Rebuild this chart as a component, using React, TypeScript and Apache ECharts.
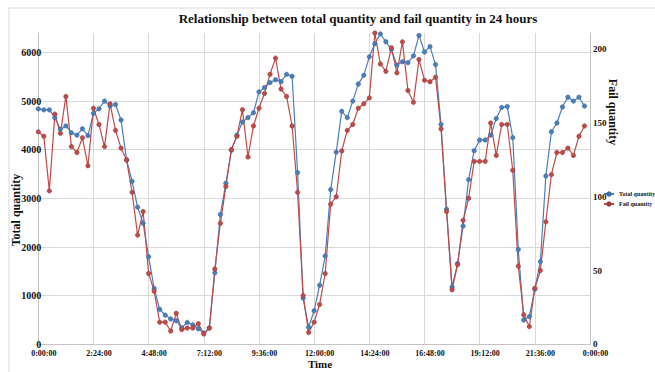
import React, { useEffect, useRef } from "react";
import * as echarts from "echarts";

const timeLabels = ["0:00:00", "2:24:00", "4:48:00", "7:12:00", "9:36:00", "12:00:00", "14:24:00", "16:48:00", "19:12:00", "21:36:00", "0:00:00"];

const totalQuantity = [
  4840, 4820, 4820, 4660, 4420, 4490, 4350, 4300, 4430, 4290,
  4750, 4840, 5000, 4900, 4930, 4610, 3790, 3350, 2820, 2490,
  1800, 1150, 720, 600, 520, 485, 340, 450, 400, 320,
  230, 335, 1470, 2670, 3310, 3990, 4300, 4570, 4660, 4760,
  5190, 5280, 5380, 5440, 5400, 5550, 5510, 3530, 950, 350,
  690, 1215, 1815, 3180, 3950, 4790, 4660, 5000, 5350, 5530,
  5910, 6180, 6380, 6220, 6060, 5740, 5810, 5790, 5930, 6350,
  6010, 6120, 5750, 4520, 2780, 1180, 1660, 2430, 3385, 3980,
  4200, 4200, 4300, 4640, 4870, 4890, 4250, 1950, 500, 570,
  1130, 1700, 3460, 4370, 4550, 4880, 5080, 5000, 5080, 4900,
];

const failQuantity = [
  144, 141, 104, 156, 143, 168, 134, 130, 140, 121,
  160, 149, 134, 163, 145, 133, 125, 103, 74, 90,
  48, 36, 15, 15, 9, 21, 10, 11, 11, 14,
  7, 11, 51, 82, 107, 132, 141, 159, 127, 148,
  160, 170, 183, 194, 173, 168, 148, 103, 33, 8,
  15, 27, 48, 95, 100, 131, 145, 149, 160, 163,
  167, 211, 190, 185, 201, 184, 205, 172, 164, 193,
  179, 178, 181, 146, 90, 37, 54, 84, 99, 124,
  124, 124, 150, 128, 149, 149, 118, 53, 20, 12,
  38, 50, 83, 115, 130, 130, 133, 128, 141, 148,
];

const FONT = '"Liberation Serif", "Times New Roman", serif';
const BLUE = "#4a7ebb";
const RED = "#be4b48";
const GRID = "#d9d9d9";
const AXIS = "#c4c4c4";

export default function App() {
  const ref = useRef<HTMLDivElement>(null);
  useEffect(() => {
    if (!ref.current) return;
    const chart = echarts.init(ref.current, undefined, { renderer: "svg" });
    const option: any = {
      animation: false,
      backgroundColor: "#ffffff",
      grid: { left: 38.3, right: 65, top: 33, bottom: 27.7, containLabel: false },
      graphic: [
        {
          type: "rect",
          shape: { x: 9, y: 8, width: 700, height: 420 },
          style: { fill: "none", stroke: "#d9d9d9", lineWidth: 1 },
          silent: true,
          z: -10,
        },
        {
          type: "text",
          x: 358,
          y: 18,
          style: {
            text: "Relationship between total quantity and fail quantity in 24 hours",
            font: `bold 13px ${FONT}`,
            fill: "#111",
            textAlign: "center",
            textVerticalAlign: "middle",
          },
        },
        {
          type: "text",
          x: 16,
          y: 210,
          rotation: Math.PI / 2,
          style: {
            text: "Total quantity",
            font: `bold 12px ${FONT}`,
            fill: "#111",
            textAlign: "center",
            textVerticalAlign: "middle",
          },
        },
        {
          type: "text",
          x: 613,
          y: 112,
          rotation: -Math.PI / 2,
          style: {
            text: "Fail quantity",
            font: `bold 12px ${FONT}`,
            fill: "#111",
            textAlign: "center",
            textVerticalAlign: "middle",
          },
        },
        {
          type: "text",
          x: 320,
          y: 364,
          style: {
            text: "Time",
            font: `bold 11px ${FONT}`,
            fill: "#111",
            textAlign: "center",
            textVerticalAlign: "middle",
          },
        },
      ],
      legend: {
        orient: "vertical",
        left: 603,
        top: 191,
        itemWidth: 10,
        itemHeight: 4,
        itemGap: 4,
        padding: 0,
        textStyle: { fontSize: 6, fontWeight: "bold", fontFamily: FONT, color: "#111" },
        data: ["Total quantity", "Fail quantity"],
      },
      xAxis: {
        type: "value",
        min: 0,
        max: 100,
        interval: 10,
        axisLine: { show: true, lineStyle: { color: AXIS, width: 1 } },
        axisTick: { show: false },
        splitLine: { show: true, lineStyle: { color: GRID, width: 1 } },
        axisLabel: {
          formatter: (v: number) => timeLabels[Math.round(v / 10)] ?? "",
          fontSize: 8,
          fontWeight: "bold",
          fontFamily: FONT,
          color: "#111",
          margin: 5,
          padding: [0, 0, 0, 11],
          showMinLabel: true,
          showMaxLabel: true,
        },
      },
      yAxis: [
        {
          type: "value",
          min: 0,
          max: 6400,
          interval: 1000,
          position: "left",
          axisLine: { show: true, lineStyle: { color: AXIS, width: 1 } },
          axisTick: { show: false },
          splitLine: { show: true, showMaxLine: false, lineStyle: { color: GRID, width: 1 } },
          axisLabel: {
            formatter: (v: number) => String(v),
            fontSize: 10,
            fontWeight: "bold",
            fontFamily: FONT,
            color: "#111",
            margin: -3,
            padding: [4, 0, 0, 0],
            showMaxLabel: false,
          },
        },
        {
          type: "value",
          min: 0,
          max: 211,
          interval: 50,
          position: "right",
          axisLine: { show: true, lineStyle: { color: AXIS, width: 1 } },
          axisTick: { show: false },
          splitLine: { show: false },
          axisLabel: {
            formatter: (v: number) => String(v),
            fontSize: 9,
            fontWeight: "bold",
            fontFamily: FONT,
            color: "#111",
            margin: 3,
            showMaxLabel: false,
          },
        },
      ],
      series: [
        {
          name: "Total quantity",
          type: "line",
          yAxisIndex: 0,
          data: totalQuantity.map((v, i) => [i, v]),
          symbol: "circle",
          symbolSize: 4.5,
          lineStyle: { color: BLUE, width: 1.2 },
          itemStyle: { color: BLUE, borderColor: "#3a659a", borderWidth: 0.5 },
        },
        {
          name: "Fail quantity",
          type: "line",
          yAxisIndex: 1,
          data: failQuantity.map((v, i) => [i, v]),
          symbol: "circle",
          symbolSize: 4.5,
          lineStyle: { color: RED, width: 1.2 },
          itemStyle: { color: RED, borderColor: "#963a37", borderWidth: 0.5 },
        },
      ],
    };
    chart.setOption(option);
    return () => chart.dispose();
  }, []);
  return (
    <div
      ref={ref}
      style={{ position: "fixed", left: 0, top: 0, width: 655, height: 372, background: "#fff" }}
    />
  );
}
